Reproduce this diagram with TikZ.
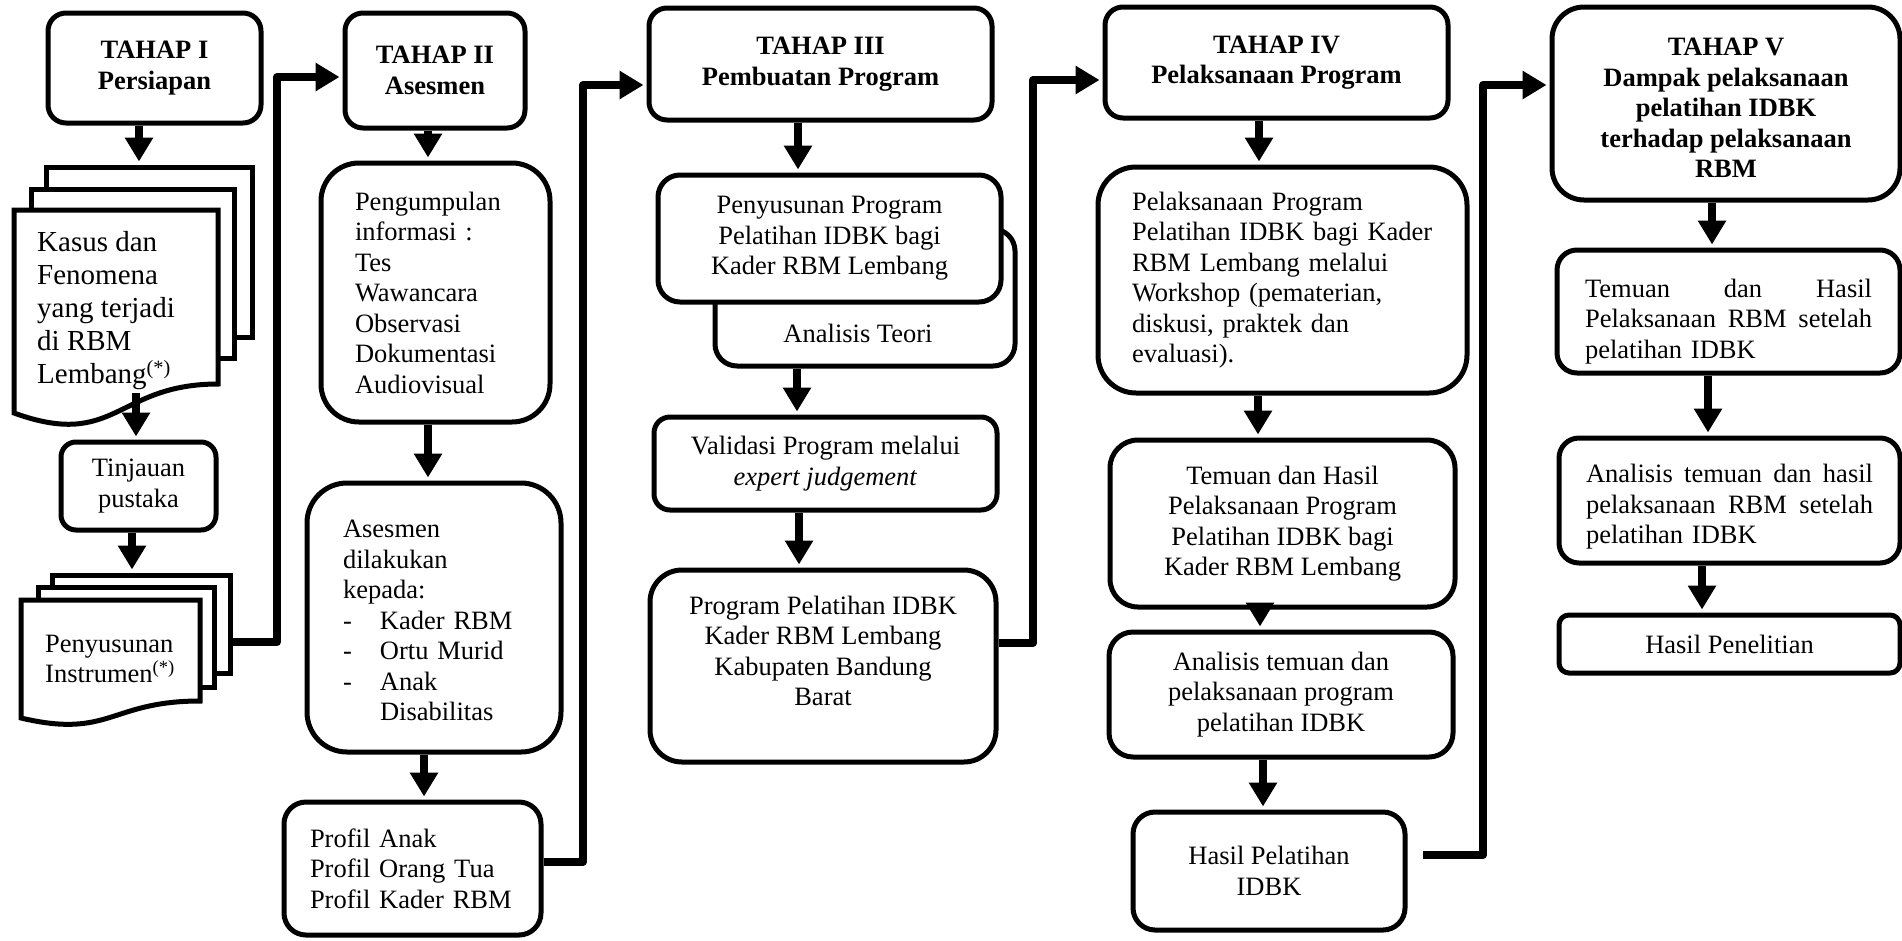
\documentclass[tikz,border=0pt]{standalone}
\usepackage{fontspec}
\setmainfont{Liberation Serif}
\usetikzlibrary{arrows.meta}

\newcommand{\dashitem}{\makebox[37pt][l]{-}}

\tikzset{
	txt/.style={font=\fontsize{26.5}{30.5}\selectfont, inner sep=0pt},
	box/.style={txt, draw, line width=5pt, fill=white, rounded corners=#1, align=center},
	box/.default=18pt,
	title/.style={box=#1, font=\fontsize{26.5}{30.5}\selectfont\bfseries},
	title/.default=18pt,
	page/.style={draw, line width=5pt, fill=white},
	arr/.style={line width=8pt, -{Triangle[length=24pt,width=27pt]}, shorten >=3pt},
	elbow/.style={arr, line join=round},
}

\begin{document}
\begin{tikzpicture}[x=1pt, y=-1pt]
	\useasboundingbox (0,0) rectangle (1902,940);

	% Tahap I
	\node[title, minimum width=213pt, minimum height=110pt] (tahap1) at (154.5,68) {TAHAP I\\Persiapan};
	\node[page, minimum width=206pt, minimum height=170pt] (kasus3) at (149,252) {};
	\node[page, minimum width=203pt, minimum height=169pt] (kasus2) at (132.5,273.5) {};
	\path[page] (14,210) -- (218,210) -- (218,384) .. controls (116,384) and (116,450) .. (14,413) -- cycle;
	\node[anchor=west, inner sep=0pt, align=left, font=\fontsize{29}{33}\selectfont] (kasus) at (37,311) {Kasus dan\\Fenomena\\yang terjadi\\di RBM\\Lembang\textsuperscript{(*)}};
	\node[box=15pt, minimum width=155pt, minimum height=88pt] (tinjauan) at (138.5,486) {Tinjauan\\pustaka};
	\node[page, minimum width=178pt, minimum height=98pt] (instr3) at (141,624) {};
	\node[page, minimum width=176pt, minimum height=100pt] (instr2) at (126,637) {};
	\path[page] (21,600) -- (200,600) -- (200,701) .. controls (110,701) and (110,739) .. (21,718) -- cycle;
	\node[txt, anchor=west, align=left] (instr) at (45,659) {Penyusunan\\Instrumen\textsuperscript{(*)}};

	% Tahap II
	\node[title, minimum width=180pt, minimum height=115pt] (tahap2) at (435,70.5) {TAHAP II\\Asesmen};
	\node[box=38pt, minimum width=229pt, minimum height=259pt, text width=161pt, align=left] (kumpul) at (435.5,292.5) {Pengumpulan\\informasi :\\Tes\\Wawancara\\Observasi\\Dokumentasi\\Audiovisual};
	\node[box=40pt, minimum width=254pt, minimum height=269pt, text width=182pt, align=left] (asesmen) at (434,617.5) {\rule{0pt}{24pt}Asesmen\\dilakukan\\kepada:\\\dashitem Kader RBM\\\dashitem Ortu Murid\\\dashitem Anak\\\hspace*{37pt}Disabilitas};
	\node[box=22pt, minimum width=257pt, minimum height=133pt, text width=205pt, align=left] (profil) at (412.5,868.5) {Profil Anak\\Profil Orang Tua\\Profil Kader RBM};

	% Tahap III
	\node[title, minimum width=343pt, minimum height=112pt] (tahap3) at (820.5,64) {TAHAP III\\Pembuatan Program};
	\node[box=22pt, minimum width=300pt, minimum height=137pt] (teori) at (865,297.5) {};
	\node[txt] (teoritext) at (858,333) {Analisis Teori};
	\node[box=22pt, minimum width=343pt, minimum height=127pt] (susun) at (829.5,238.5) {Penyusunan Program\\Pelatihan IDBK bagi\\Kader RBM Lembang};
	\node[box=16pt, minimum width=343pt, minimum height=93pt] (validasi) at (825.5,463.5) {Validasi Program melalui\\\textit{expert judgement}};
	\node[box=32pt, minimum width=346pt, minimum height=192pt] (program) at (823,666) {Program Pelatihan IDBK\\Kader RBM Lembang\\Kabupaten Bandung\\Barat\\\mbox{}};

	% Tahap IV
	\node[title, minimum width=343pt, minimum height=111pt] (tahap4) at (1276.5,62.5) {TAHAP IV\\Pelaksanaan Program};
	\node[box=38pt, minimum width=369pt, minimum height=226pt, text width=301pt, align=left] (laksana) at (1282.5,280) {Pelaksanaan Program\\Pelatihan IDBK bagi Kader\\RBM Lembang melalui\\Workshop (pematerian,\\diskusi, praktek dan\\evaluasi).};
	\node[box=28pt, minimum width=345pt, minimum height=167pt] (temuan4) at (1282.5,523.5) {Temuan dan Hasil\\Pelaksanaan Program\\Pelatihan IDBK bagi\\Kader RBM Lembang};
	\node[box=24pt, minimum width=344pt, minimum height=125pt] (analisis4) at (1281,694.5) {Analisis temuan dan\\pelaksanaan program\\pelatihan IDBK};
	\node[box=22pt, minimum width=272pt, minimum height=118pt] (hasil4) at (1269,871) {Hasil Pelatihan\\IDBK};

	% Tahap V
	\node[title=32pt, minimum width=348pt, minimum height=193pt] (tahap5) at (1726,103.5) {\rule{0pt}{27pt}TAHAP V\\Dampak pelaksanaan\\pelatihan IDBK\\terhadap pelaksanaan\\RBM};
	\node[box=20pt, minimum width=343pt, minimum height=123pt, text width=287pt, align=left] (temuan5) at (1728.5,311.5) {\rule{0pt}{38pt}Temuan\hfill dan\hfill Hasil\\Pelaksanaan\hfill RBM\hfill setelah\\pelatihan IDBK};
	\node[box=20pt, minimum width=341pt, minimum height=125pt, text width=287pt, align=left] (analisis5) at (1729.5,500.5) {\rule{0pt}{31pt}Analisis\hfill temuan\hfill dan\hfill hasil\\pelaksanaan\hfill RBM\hfill setelah\\pelatihan IDBK};
	\node[box=10pt, minimum width=341pt, minimum height=58pt] (hasil5) at (1729.5,644) {Hasil Penelitian};

	% Arrows in each column
	\draw[arr] (tahap1.south -| 139,0) -- (kasus3.north -| 139,0);
	\coordinate (kasusout) at (136,393);
	\draw[arr] (kasusout) -- (kasusout |- tinjauan.north);
	\draw[arr] (tinjauan.south -| 132,0) -- (instr3.north -| 132,0);

	\draw[arr] (tahap2.south -| 428,0) -- (kumpul.north -| 428,0);
	\draw[arr] (kumpul.south -| 428,0) -- (asesmen.north -| 428,0);
	\draw[arr] (asesmen.south -| 424,0) -- (profil.north -| 424,0);

	\draw[arr] (tahap3.south -| 798,0) -- (susun.north -| 798,0);
	\draw[arr] (teori.south -| 797,0) -- (validasi.north -| 797,0);
	\draw[arr] (validasi.south -| 799,0) -- (program.north -| 799,0);

	\draw[arr] (tahap4.south -| 1259,0) -- (laksana.north -| 1259,0);
	\draw[arr] (laksana.south -| 1258,0) -- (temuan4.north -| 1258,0);
	\draw[arr, shorten <=-3pt] (temuan4.south -| 1260,0) -- (analisis4.north -| 1260,0);
	\draw[arr] (analisis4.south -| 1263,0) -- (hasil4.north -| 1263,0);

	\draw[arr] (tahap5.south -| 1712,0) -- (temuan5.north -| 1712,0);
	\draw[arr] (temuan5.south -| 1708,0) -- (analisis5.north -| 1708,0);
	\draw[arr] (analisis5.south -| 1702,0) -- (hasil5.north -| 1702,0);

	% Links between the stages
	\draw[elbow] (instr3.east |- 0,642) -| (277,77) -- (tahap2.west |- 0,77);
	\draw[elbow] (profil.east |- 0,862) -| (583,85) -- (tahap3.west |- 0,85);
	\draw[elbow] (program.east |- 0,643) -| (1033,80) -- (tahap4.west |- 0,80);
	\coordinate (hasilout) at (1423,855);
	\draw[elbow] (hasilout) -| (1483,85) -- (tahap5.west |- 0,85);

\end{tikzpicture}
\end{document}
